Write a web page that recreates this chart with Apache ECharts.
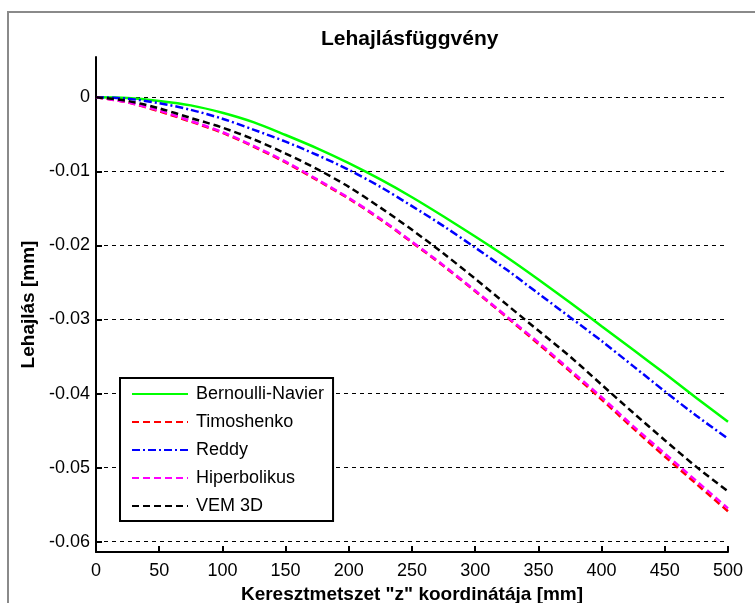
<!DOCTYPE html>
<html>
<head>
<meta charset="utf-8">
<script src="https://cdn.jsdelivr.net/npm/echarts@6/dist/echarts.min.js"></script>
<style>
html,body{margin:0;padding:0;background:#fff;}
#chart{width:755px;height:603px;}
</style>
</head>
<body>
<div id="chart"></div>
<script>
// ---- data ----
const zValues = [0,25,50,75,100,125,150,175,200,225,250,275,300,325,350,375,400,425,450,475,500];
const bernoulliNavier = [0,-0.0001,-0.0005,-0.0011,-0.0021,-0.0034,-0.0051,-0.0069,-0.0089,-0.0111,-0.0135,-0.0161,-0.0188,-0.0216,-0.0246,-0.0277,-0.0309,-0.0341,-0.0373,-0.0406,-0.0438];
const timoshenko = [0,-0.0007,-0.0019,-0.0033,-0.0048,-0.0067,-0.0088,-0.0112,-0.0137,-0.0165,-0.0196,-0.0228,-0.0262,-0.0297,-0.0333,-0.0370,-0.0408,-0.0447,-0.0485,-0.0522,-0.0559];
const reddy = [0,-0.0002,-0.0008,-0.0017,-0.0029,-0.0044,-0.0060,-0.0078,-0.0098,-0.0121,-0.0147,-0.0174,-0.0203,-0.0233,-0.0265,-0.0297,-0.0329,-0.0363,-0.0397,-0.0430,-0.0461];
const hiperbolikus = [0,-0.0007,-0.0018,-0.0032,-0.0047,-0.0066,-0.0087,-0.0111,-0.0136,-0.0164,-0.0195,-0.0227,-0.0261,-0.0296,-0.0331,-0.0368,-0.0405,-0.0444,-0.0481,-0.0518,-0.0555];
const vem3d = [0,-0.0005,-0.0015,-0.0028,-0.0041,-0.0057,-0.0076,-0.0097,-0.0121,-0.0149,-0.0179,-0.0211,-0.0245,-0.0280,-0.0315,-0.0350,-0.0388,-0.0426,-0.0463,-0.0499,-0.0532];
const seriesNames = ["Bernoulli-Navier","Timoshenko","Reddy","Hiperbolikus","VEM 3D"];
const yTickValues = [0,-0.01,-0.02,-0.03,-0.04,-0.05,-0.06];
const yTickLabels = ["0","-0.01","-0.02","-0.03","-0.04","-0.05","-0.06"];
const xTickLabels = ["0","50","100","150","200","250","300","350","400","450","500"];

const FONT = '"Liberation Sans",Arial,sans-serif';

function pairs(arr){ return zValues.map((z,i)=>[z,arr[i]]); }

const seriesData = [bernoulliNavier, timoshenko, reddy, hiperbolikus, vem3d];
const colors = ['#00ff00','#ff0000','#0000ff','#ff00ff','#000000'];
const dashTypes = ['solid',[7,4],[8,3,2,3],[7,4],[7,4]];

const chart = echarts.init(document.getElementById('chart'), null, {renderer:'canvas'});
chart.setOption({
  animation:false,
  backgroundColor:'#fff',
  title:{
    text:'Lehajlásfüggvény',
    left:316, top:24,
    textStyle:{fontFamily:FONT,fontSize:21,fontWeight:'bold',color:'#000'}
  },
  graphic:[{
    type:'rect', silent:true, z:-10,
    shape:{x:8,y:12,width:800,height:700},
    style:{fill:'none',stroke:'#8a8a8a',lineWidth:2}
  }],
  grid:{left:96,right:27,top:57,bottom:51,containLabel:false,outerBoundsMode:'none'},
  legend:{
    orient:'vertical', left:120, top:378,
    backgroundColor:'#fff', borderColor:'#000', borderWidth:2,
    padding:[6,9,5,11],
    itemWidth:56, itemHeight:14, itemGap:8,
    itemStyle:{color:'rgba(0,0,0,0)',borderWidth:0,opacity:0},
    textStyle:{fontFamily:FONT,fontSize:18,color:'#000',lineHeight:20,padding:[0,0,0,3]},
    data:seriesNames
  },
  xAxis:{
    type:'value', min:0, max:500, interval:50,
    name:'Keresztmetszet "z" koordinátája [mm]',
    nameLocation:'middle', nameGap:26,
    nameTextStyle:{fontFamily:FONT,fontSize:19,fontWeight:'bold',color:'#000'},
    axisLine:{show:true,onZero:false,lineStyle:{color:'#000',width:2}},
    axisTick:{show:true,inside:true,length:6,lineStyle:{color:'#000',width:2}},
    axisLabel:{color:'#000',fontFamily:FONT,fontSize:18,margin:10,
      formatter:(v)=>{const i=Math.round(v/50);return xTickLabels[i]!==undefined?xTickLabels[i]:'';}},
    splitLine:{show:false}
  },
  yAxis:{
    type:'value', min:-0.06139, max:0.00543,
    name:'Lehajlás [mm]',
    nameLocation:'middle', nameGap:55, nameRotate:90,
    nameTextStyle:{fontFamily:FONT,fontSize:19,fontWeight:'bold',color:'#000'},
    axisLine:{show:true,onZero:false,lineStyle:{color:'#000',width:2}},
    axisTick:{show:true,inside:true,length:6,lineStyle:{color:'#000',width:2},customValues:yTickValues},
    axisLabel:{color:'#000',fontFamily:FONT,fontSize:18,margin:6,customValues:yTickValues,
      formatter:(v)=>{let idx=-1;yTickValues.forEach((t,i)=>{if(Math.abs(t-v)<1e-6)idx=i;});return idx>=0?yTickLabels[idx]:'';}},
    splitLine:{show:true,lineStyle:{color:'#000',width:1,type:[4,4]}}
  },
  series:seriesNames.map((name,i)=>({
    name:name, type:'line', data:pairs(seriesData[i]),
    smooth:0.3, symbol:'none', showSymbol:false,
    lineStyle:{color:colors[i],width:2.5,type:dashTypes[i]},
    itemStyle:{color:colors[i]},
    z:2+i
  }))
});
</script>
</body>
</html>
